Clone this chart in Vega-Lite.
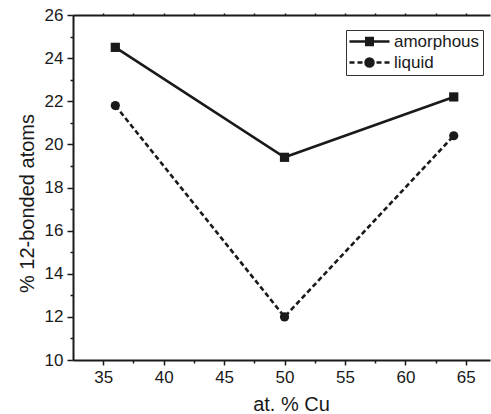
{
  "$schema": "https://vega.github.io/schema/vega-lite/v6.json",
  "width": 417,
  "height": 345,
  "autosize": {"type": "none"},
  "padding": {"left": 73, "top": 15, "right": 1, "bottom": 54},
  "background": "white",
  "config": {
    "view": {"stroke": null},
    "font": "Liberation Sans",
    "axis": {
      "labelFont": "Liberation Sans",
      "titleFont": "Liberation Sans",
      "titleFontWeight": "normal",
      "labelColor": "#1a1a1a",
      "titleColor": "#1a1a1a",
      "domainColor": "#1a1a1a",
      "tickColor": "#1a1a1a",
      "domainWidth": 2,
      "tickWidth": 1.5,
      "grid": false
    }
  },
  "data": {
    "values": [
      {"series": "amorphous", "cu": 36, "pct": 24.5},
      {"series": "amorphous", "cu": 50, "pct": 19.4},
      {"series": "amorphous", "cu": 64, "pct": 22.2},
      {"series": "liquid", "cu": 36, "pct": 21.8},
      {"series": "liquid", "cu": 50, "pct": 12.0},
      {"series": "liquid", "cu": 64, "pct": 20.4}
    ]
  },
  "layer": [
    {
      "transform": [{"filter": "datum.series === 'amorphous'"}],
      "mark": {"type": "line", "strokeWidth": 2.6, "color": "#1a1a1a"},
      "encoding": {
        "x": {
          "field": "cu", "type": "quantitative",
          "scale": {"domain": [32.5, 67], "nice": false, "zero": false},
          "axis": {
            "orient": "bottom",
            "values": [35, 40, 45, 50, 55, 60, 65],
            "tickSize": 5,
            "labelFontSize": 17,
            "labelPadding": 4,
            "labelFlush": false,
            "labelOverlap": false,
            "title": "at. % Cu",
            "titleFontSize": 20,
            "titleX": 218,
            "titleY": 50,
            "titleAlign": "center",
            "titleBaseline": "alphabetic"
          }
        },
        "y": {
          "field": "pct", "type": "quantitative",
          "scale": {"domain": [10, 26], "nice": false, "zero": false},
          "axis": {
            "orient": "left",
            "values": [10, 12, 14, 16, 18, 20, 22, 24, 26],
            "tickSize": 6,
            "labelFontSize": 17,
            "labelPadding": 4,
            "labelFlush": false,
            "labelOverlap": false,
            "title": "% 12-bonded atoms",
            "titleFontSize": 20,
            "titleAngle": 270,
            "titleX": -40,
            "titleY": 188,
            "titleAlign": "center",
            "titleBaseline": "alphabetic"
          }
        }
      }
    },
    {
      "transform": [{"filter": "datum.series === 'liquid'"}],
      "mark": {"type": "line", "strokeWidth": 2.6, "color": "#1a1a1a", "strokeDash": [5, 3]},
      "encoding": {
        "x": {
          "field": "cu", "type": "quantitative",
          "axis": {
            "orient": "bottom",
            "values": [37.5, 42.5, 47.5, 52.5, 57.5, 62.5],
            "tickSize": 3,
            "labels": false,
            "domain": false,
            "title": null
          }
        },
        "y": {
          "field": "pct", "type": "quantitative",
          "axis": {
            "orient": "left",
            "values": [11, 13, 15, 17, 19, 21, 23, 25],
            "tickSize": 3,
            "labels": false,
            "domain": false,
            "title": null
          }
        }
      }
    },
    {
      "transform": [{"filter": "datum.series === 'amorphous'"}],
      "mark": {"type": "point", "shape": "square", "filled": true, "color": "#1a1a1a", "opacity": 1, "size": 85},
      "encoding": {
        "x": {"field": "cu", "type": "quantitative", "axis": null},
        "y": {"field": "pct", "type": "quantitative", "axis": null}
      }
    },
    {
      "transform": [{"filter": "datum.series === 'liquid'"}],
      "mark": {"type": "point", "shape": "circle", "filled": true, "color": "#1a1a1a", "opacity": 1, "size": 85},
      "encoding": {
        "x": {"field": "cu", "type": "quantitative", "axis": null},
        "y": {"field": "pct", "type": "quantitative", "axis": null}
      }
    },
    {
      "mark": {"type": "point", "filled": false, "color": "#1a1a1a", "opacity": 0, "size": 100, "strokeWidth": 2.5},
      "encoding": {
        "x": {
          "field": "cu", "type": "quantitative",
          "axis": {
            "orient": "top",
            "values": [35, 37.5, 40, 42.5, 45, 47.5, 50, 52.5, 55, 57.5, 60, 62.5, 65],
            "labels": false,
            "tickSize": 2,
            "title": null
          }
        },
        "y": {"field": "pct", "type": "quantitative", "axis": null},
        "shape": {
          "field": "series", "type": "nominal",
          "scale": {
            "domain": ["amorphous", "liquid"],
            "range": [
              "M-4,0H4M-0.9,-0.7H0.9M-0.9,-0.35H0.9M-0.9,0.35H0.9M-0.9,0.7H0.9",
              "M-4,0H-3M-2.4,0H-1.4M1.4,0H2.4M3,0H4M-0.8,0A0.8,0.8 0 1,0 0.8,0A0.8,0.8 0 1,0 -0.8,0M-0.5,0A0.5,0.5 0 1,0 0.5,0A0.5,0.5 0 1,0 -0.5,0M-0.22,0A0.22,0.22 0 1,0 0.22,0A0.22,0.22 0 1,0 -0.22,0"
            ]
          },
          "legend": {
            "orient": "none",
            "legendX": 273,
            "legendY": 15,
            "title": null,
            "strokeColor": "#333333",
            "padding": 3,
            "symbolSize": 100,
            "rowPadding": 3,
            "labelFontSize": 17,
            "labelFont": "Liberation Sans",
            "labelColor": "#1a1a1a",
            "labelOffset": 16,
            "symbolOffset": 12,
            "symbolStrokeWidth": 2.5,
            "symbolOpacity": 1,
            "symbolStrokeColor": "#1a1a1a",
            "encode": {
              "symbols": {
                "opacity": {"value": 1},
                "stroke": {"value": "#1a1a1a"},
                "strokeOpacity": {"value": 1},
                "strokeWidth": {"value": 2.5}
              }
            }
          }
        }
      }
    }
  ],
  "resolve": {"axis": {"x": "independent", "y": "independent"}}
}
